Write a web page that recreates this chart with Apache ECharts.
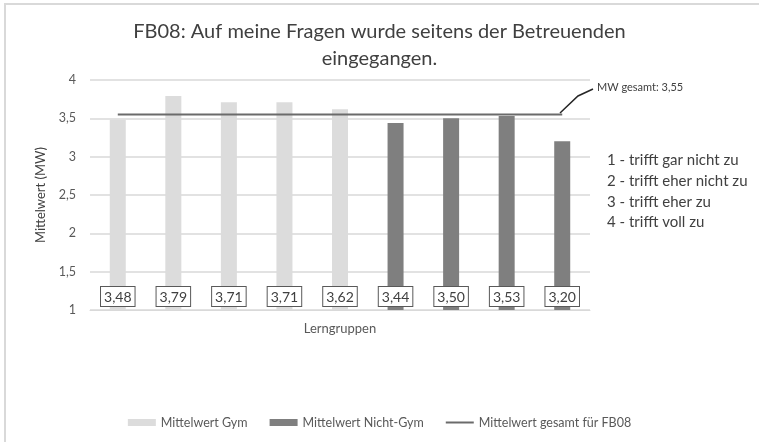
<!DOCTYPE html>
<html>
<head>
<meta charset="utf-8">
<script src="https://cdn.jsdelivr.net/npm/echarts@6/dist/echarts.min.js"></script>
<style>
  html, body { margin: 0; padding: 0; background: #fff; }
  #chart { width: 759px; height: 442px; }
</style>
</head>
<body>
<div id="chart"></div>
<script>
// Lerngruppen 1-9 (keine Beschriftung im Original)
const groups = ['1', '2', '3', '4', '5', '6', '7', '8', '9']
const gymValues = [3.48, 3.79, 3.71, 3.71, 3.62, '-', '-', '-', '-']
const nichtGymValues = ['-', '-', '-', '-', '-', 3.44, 3.50, 3.53, 3.20]
const meanTotal = 3.55
const meanValues = groups.map(() => meanTotal)
const scaleNotes = [
  '1 - trifft gar nicht zu',
  '2 - trifft eher nicht zu',
  '3 - trifft eher zu',
  '4 - trifft voll zu'
]

const FONT = 'Lato'
const fmt = (v) => Number(v).toFixed(2).replace('.', ',')

const chart = echarts.init(document.getElementById('chart'))

const barLabel = {
  show: true,
  position: 'insideBottom',
  distance: 4,
  formatter: (p) => fmt(p.value),
  color: '#404040',
  fontFamily: FONT,
  fontSize: 14,
  backgroundColor: '#fff',
  borderColor: '#595959',
  borderWidth: 1,
  padding: [3, 3, 2, 3]
}

const option = {
  animation: false,
  textStyle: { fontFamily: FONT },
  title: {
    text: 'FB08: Auf meine Fragen wurde seitens der Betreuenden\neingegangen.',
    left: 'center',
    top: 13,
    textStyle: {
      fontFamily: FONT,
      fontSize: 20,
      fontWeight: 'normal',
      color: '#404040',
      lineHeight: 27
    }
  },
  legend: {
    bottom: 8,
    left: 'center',
    itemWidth: 28,
    itemHeight: 7,
    itemGap: 22,
    textStyle: { fontFamily: FONT, fontSize: 12.5, color: '#595959' },
    data: [
      { name: 'Mittelwert Gym', icon: 'rect' },
      { name: 'Mittelwert Nicht-Gym', icon: 'rect' },
      { name: 'Mittelwert gesamt für FB08', icon: 'path://M0,0 L28,0 L28,2 L0,2 Z' }
    ]
  },
  grid: { left: 90, right: 169, top: 80, bottom: 132 },
  xAxis: {
    type: 'category',
    data: groups,
    name: 'Lerngruppen',
    nameLocation: 'middle',
    nameGap: 12,
    nameTextStyle: { fontFamily: FONT, fontSize: 13, color: '#595959' },
    axisLine: { show: true, lineStyle: { color: '#d9d9d9' } },
    axisTick: { show: false },
    axisLabel: { show: false }
  },
  yAxis: {
    type: 'value',
    min: 1,
    max: 4,
    interval: 0.5,
    name: 'Mittelwert (MW)',
    nameLocation: 'middle',
    nameGap: 36,
    nameRotate: 90,
    nameTextStyle: { fontFamily: FONT, fontSize: 13, color: '#404040' },
    axisLine: { show: false },
    axisTick: { show: false },
    axisLabel: {
      formatter: (v) => String(v).replace('.', ','),
      fontFamily: FONT,
      fontSize: 12.5,
      color: '#595959',
      margin: 14
    },
    splitLine: { lineStyle: { color: '#d9d9d9', width: 1.5 } }
  },
  series: [
    {
      name: 'Mittelwert Gym',
      type: 'bar',
      stack: 'mw',
      barWidth: 16,
      data: gymValues,
      itemStyle: { color: '#dcdcdc' },
      label: barLabel
    },
    {
      name: 'Mittelwert Nicht-Gym',
      type: 'bar',
      stack: 'mw',
      barWidth: 16,
      data: nichtGymValues,
      itemStyle: { color: '#7f7f7f' },
      label: barLabel
    },
    {
      name: 'Mittelwert gesamt für FB08',
      type: 'line',
      data: meanValues,
      symbol: 'none',
      lineStyle: { color: '#6b6b6b', width: 2 },
      itemStyle: { color: '#6b6b6b' },
      z: 5
    }
  ],
  graphic: [
    {
      type: 'rect',
      shape: { x: 5, y: 4, width: 800, height: 500 },
      style: { fill: 'none', stroke: '#d9d9d9', lineWidth: 2 },
      silent: true
    },
    {
      type: 'polyline',
      shape: { points: [[560, 113], [578, 96], [593, 89]] },
      style: { stroke: '#262626', lineWidth: 1.5, fill: 'none' },
      silent: true
    },
    {
      type: 'text',
      left: 597,
      top: 82,
      style: { text: 'MW gesamt: 3,55', fontFamily: FONT, fontSize: 11, fill: '#404040' }
    },
    {
      type: 'text',
      left: 607,
      top: 150,
      style: {
        text: scaleNotes.join('\n'),
        fontFamily: FONT,
        fontSize: 15,
        lineHeight: 20.7,
        fill: '#404040'
      }
    }
  ]
}

chart.setOption(option)
</script>
</body>
</html>
